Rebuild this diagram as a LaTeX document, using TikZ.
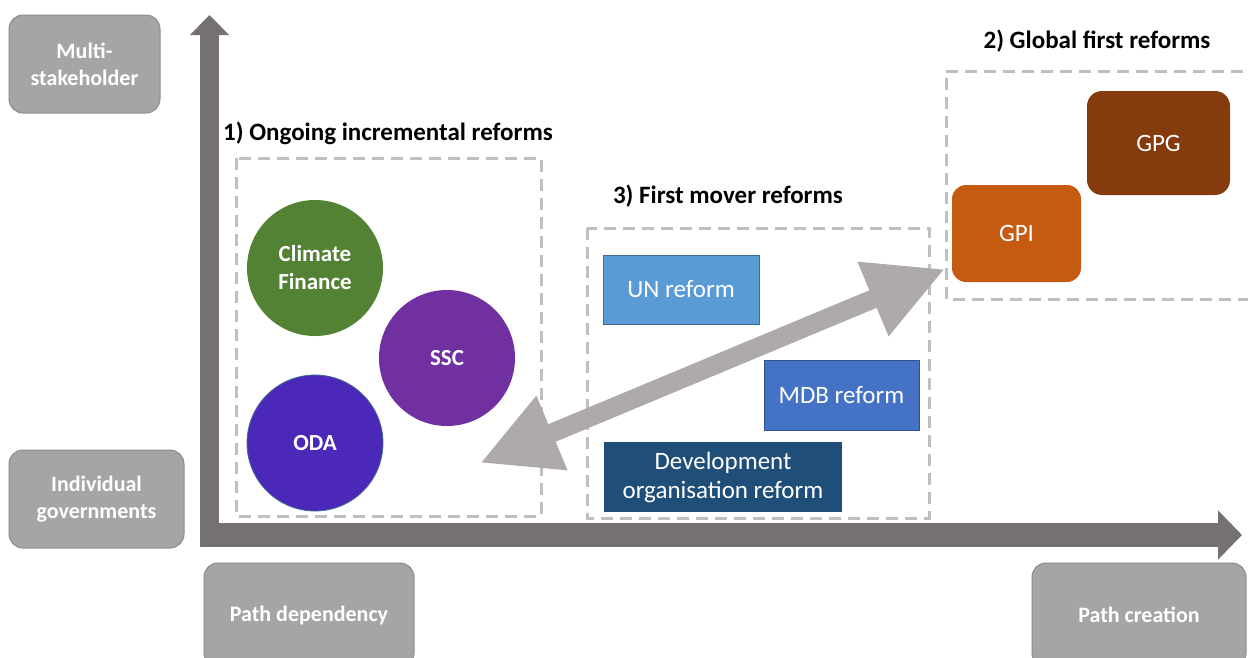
\documentclass[tikz,border=0pt]{standalone}
\usepackage{fontspec}
\setmainfont{Carlito}
\usetikzlibrary{arrows.meta}

\definecolor{axisgray}{HTML}{767171}
\definecolor{labelgray}{HTML}{A5A5A5}
\definecolor{labeledge}{HTML}{8C8C8C}
\definecolor{framegray}{HTML}{BFBFBF}
\definecolor{linkgray}{HTML}{AEAAAA}
\definecolor{cfgreen}{HTML}{548235}
\definecolor{sscpurple}{HTML}{7030A0}
\definecolor{odaviolet}{HTML}{4B28B8}
\definecolor{unblue}{HTML}{5B9BD5}
\definecolor{mdbblue}{HTML}{4472C4}
\definecolor{devblue}{HTML}{1F4E79}
\definecolor{gpiorange}{HTML}{C55A11}
\definecolor{gpgbrown}{HTML}{843C0C}

\tikzset{
	axislabel/.style={rectangle, rounded corners=14pt, fill=labelgray, draw=labeledge,
		line width=1pt, text=white, align=center, inner sep=0pt,
		font=\fontsize{22}{27}\selectfont\bfseries},
	groupframe/.style={draw=framegray, line width=3pt, dash pattern=on 12pt off 7pt},
	grouptitle/.style={text=black, font=\fontsize{25}{30}\selectfont\bfseries},
	topic/.style={circle, minimum size=136pt, inner sep=0pt, text=white, align=center,
		font=\fontsize{23}{28}\selectfont\bfseries},
	reform/.style={rectangle, line width=1pt, text=white, align=center, inner sep=0pt,
		font=\fontsize{25}{29}\selectfont},
}

\begin{document}
\begin{tikzpicture}[x=1pt, y=-1pt]

	% ---- canvas

	\useasboundingbox (0,0) rectangle (1248,657);
	\clip (0,0) rectangle (1248,657);

	% ---- parameters

	\def\shaft{19}
	\def\link{19}

	% ---- coordinates

	\coordinate (O) at (209.5,547);
	\coordinate (Ytop) at (209.5,15);
	\coordinate (Xleft) at (200,535);
	\coordinate (Xend) at (1242,535);

	\coordinate (L) at (480,463);
	\coordinate (R) at (945,269);

	% ---- axes

	\draw[axisgray, line width=\shaft pt, -{Triangle[length=20pt, width=38pt]}] (O) -- (Ytop);
	\draw[axisgray, line width=24pt, -{Triangle[length=24pt, width=48pt]}] (Xleft) -- (Xend);

	% ---- axis labels

	\node[axislabel, minimum width=151pt, minimum height=98pt] (multi) at (84.5,64)
		{Multi-\\stakeholder};
	\node[axislabel, minimum width=175pt, minimum height=98pt] (indiv) at (96.5,499)
		{Individual\\governments};
	\node[axislabel, minimum width=210pt, minimum height=104pt] (dep) at (309,615)
		{Path dependency};
	\node[axislabel, minimum width=214pt, minimum height=104pt] (create) at (1139,615)
		{Path creation};

	% ---- frames

	\draw[groupframe] (236,158) rectangle (541,516);
	\draw[groupframe] (587,228) rectangle (929,518);
	\draw[groupframe] (1262,71) -- (946,71) -- (946,299) -- (1262,299);

	% ---- frame titles

	\node[grouptitle] (ongoing) at (388,133) {1) Ongoing incremental reforms};
	\node[grouptitle] (global) at (1097,41) {2) Global first reforms};
	\node[grouptitle] (mover) at (728,196) {3) First mover reforms};

	% ---- ongoing reforms

	\node[topic, fill=cfgreen] (climate) at (315,268) {Climate\\Finance};
	\node[topic, fill=sscpurple] (ssc) at (447,358) {SSC};
	\node[topic, fill=odaviolet, draw=unblue!70!black, line width=0.8pt] (oda) at (315,443) {ODA};

	% ---- first mover reforms

	\node[reform, fill=unblue, draw=unblue!70!black, minimum width=156pt, minimum height=69pt]
		(un) at (681,289.5) {UN reform};
	\node[reform, fill=mdbblue, draw=mdbblue!70!black, minimum width=155pt, minimum height=70pt]
		(mdb) at (841.5,395) {MDB reform};
	\node[reform, fill=devblue, minimum width=238pt, minimum height=70pt]
		(dev) at (723,477) {Development\\organisation reform};

	% ---- global first reforms

	\node[reform, rounded corners=14pt, fill=gpiorange, minimum width=129pt, minimum height=97pt]
		(gpi) at (1016.5,233.5) {GPI};
	\node[reform, rounded corners=15pt, fill=gpgbrown, minimum width=143pt, minimum height=104pt]
		(gpg) at (1158.5,143) {GPG};

	% ---- link between path dependency and path creation

	\draw[linkgray, line width=\link pt,
		{Triangle[length=78pt, width=75pt]}-{Triangle[length=78pt, width=75pt]}] (L) -- (R);

\end{tikzpicture}
\end{document}
